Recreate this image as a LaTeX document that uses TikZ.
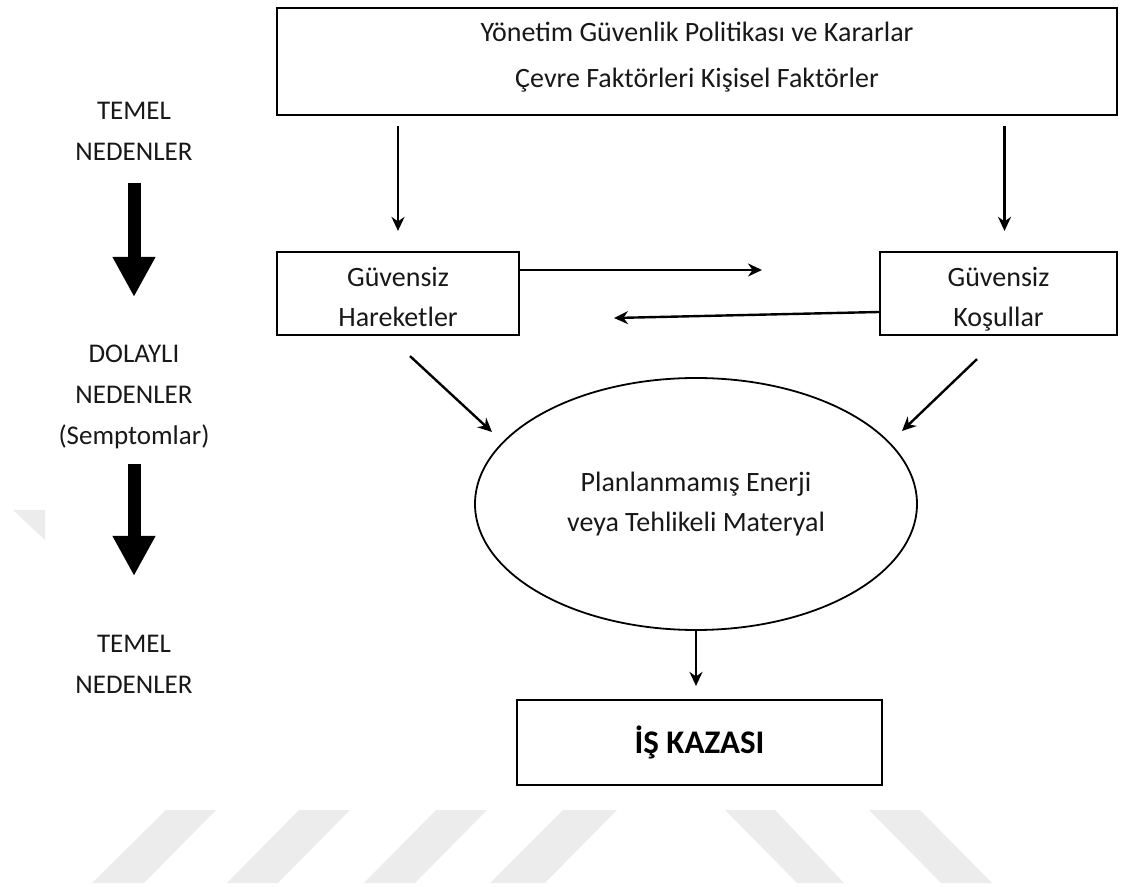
\documentclass[tikz,border=0pt]{standalone}
\usepackage{fontspec}
\setmainfont{Carlito}
\usepackage{tikz}
\usetikzlibrary{shapes.geometric,arrows.meta,positioning,calc}
\definecolor{inkGray}{RGB}{24, 24, 24}
\definecolor{markGray}{RGB}{236, 236, 236}

\begin{document}
\begin{tikzpicture}[
        x=0.5pt, y=-0.5pt,
        box/.style={rectangle, draw=black, line width=1.1pt, align=center, text=inkGray, inner sep=0pt, font=\fontsize{14}{20}\selectfont},
        topbox/.style={box, minimum width=420pt, minimum height=53.5pt, font=\fontsize{14}{23}\selectfont},
        causebox/.style={box, minimum height=41.5pt, text height=33.5pt, text depth=0pt},
        endbox/.style={box, minimum width=182.5pt, minimum height=42.5pt, font=\fontsize{16.5}{20}\selectfont\bfseries, text=black},
        hazard/.style={ellipse, draw=black, line width=0.9pt, minimum width=221pt, minimum height=126pt, inner sep=0pt, align=center, text=inkGray, font=\fontsize{14}{20}\selectfont},
        level/.style={align=center, text=inkGray, font=\fontsize{13.5}{20.5}\selectfont},
        arrow/.style={-{Stealth[length=7pt,width=6.5pt]}, line width=1.2pt, black},
        bigarrow/.style={-{Triangle[length=20pt,width=20pt]}, line width=6.5pt, black}
    ]
        \useasboundingbox (0,0) rectangle (1131,887);

        % Watermark
        \fill[markGray] (13,510) -- (45,510) -- (45,540) -- cycle;
        \fill[markGray] (92,883) -- (144,883) -- (216,810) -- (166,810) -- cycle;
        \fill[markGray] (227,883) -- (278,883) -- (350,810) -- (299,810) -- cycle;
        \fill[markGray] (364,883) -- (415,883) -- (487,810) -- (436,810) -- cycle;
        \fill[markGray] (490,883) -- (545,883) -- (617,810) -- (563,810) -- cycle;
        \fill[markGray] (797,883) -- (844,883) -- (775,810) -- (725,810) -- cycle;
        \fill[markGray] (941,883) -- (992,883) -- (920,810) -- (869,810) -- cycle;

        % Management level
        \node[topbox] (policy) at (697,61.5) {Yönetim Güvenlik Politikası ve Kararlar\\Çevre Faktörleri Kişisel Faktörler\strut};

        % Unsafe acts and conditions
        \node[causebox, minimum width=121pt] (acts) at (398,293.5) {Güvensiz\\Hareketler};
        \node[causebox, minimum width=118.5pt] (conds) at (998.5,293.5) {Güvensiz\\Koşullar};

        % Hazard
        \node[hazard] (energy) at (696,504) {Planlanmamış Enerji\\veya Tehlikeli Materyal};

        % Accident
        \node[endbox] (accident) at (699.5,742.5) {İŞ KAZASI};

        % Levels on the left
        \node[level] (root1) at (134,131.5) {TEMEL\\NEDENLER};
        \node[level] (indirect) at (134,397) {DOLAYLI\\NEDENLER\\(Semptomlar)};
        \node[level] (root2) at (134,664) {TEMEL\\NEDENLER};

        \draw[bigarrow, shorten <=25.75pt, shorten >=50pt] (root1.center) -- (indirect.center);
        \draw[bigarrow, shorten <=33.5pt, shorten >=44pt] (indirect.center) -- (root2.center);

        % Free ends
        \coordinate (midR) at (762,270);
        \coordinate (midL) at (614,318);
        \coordinate (tipL) at (492,432);
        \coordinate (tipR) at (902,431);

        % Main flow arrows
        \draw[arrow, shorten <=5pt, shorten >=10pt] (acts |- policy.south) -- (acts.north);
        \draw[arrow, shorten <=5pt, shorten >=10pt] ([xshift=3pt]conds |- policy.south) -- ([xshift=3pt]conds.north);

        \draw[arrow] (acts.east |- midR) -- (midR);
        \draw[arrow] ([yshift=-9.25pt]conds.west) -- (midL);

        \draw[arrow] ([xshift=6pt,yshift=-10pt]acts.south) -- (tipL);
        \draw[arrow] ([xshift=-10.75pt,yshift=-11.5pt]conds.south) -- (tipR);

        \draw[arrow, shorten >=6.5pt] (energy.south) -- (energy.south |- accident.north);

    \end{tikzpicture}
\end{document}
